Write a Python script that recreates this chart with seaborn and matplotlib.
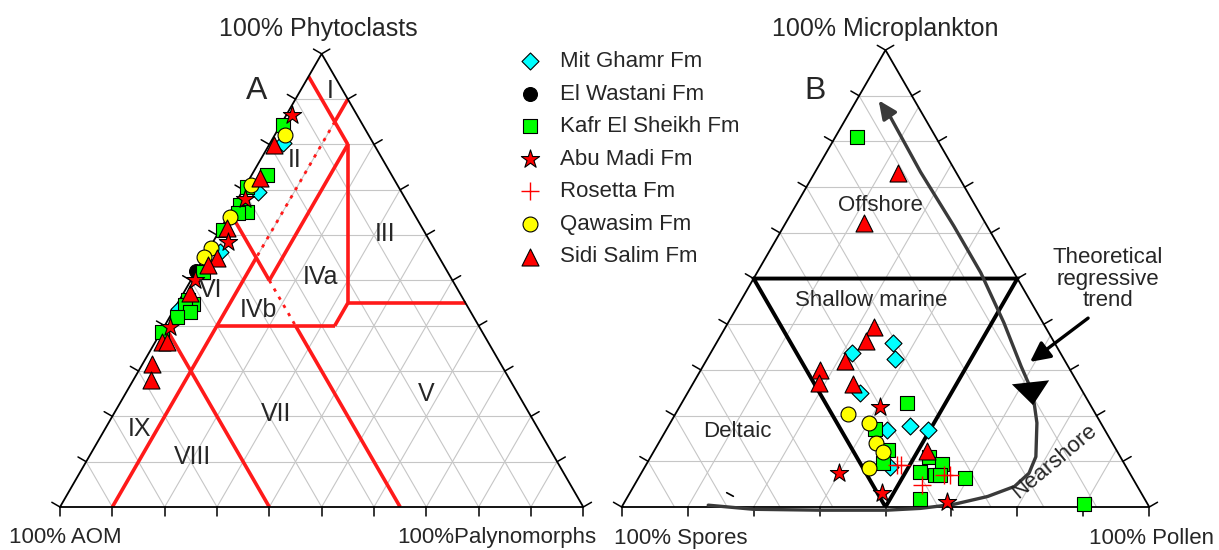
import numpy as np
import matplotlib
matplotlib.use("Agg")
import matplotlib.pyplot as plt
import seaborn as sns

sns.set_style("white")
plt.rcParams["font.family"] = ["Liberation Sans", "DejaVu Sans"]

SQ3 = np.sqrt(3) / 2

# ---------------- Diagram A: APP plot (phytoclasts %, palynomorphs %; AOM = rest)
mit_ghamr_a_phyto = [80.3, 69.5, 56.2, 43.8]
mit_ghamr_a_palyno = [2.5, 3.0, 2.5, 0.9]
el_wastani_a_phyto = [52.1]
el_wastani_a_palyno = [0.0]
kafr_a_phyto = [84.2, 73.3, 70.7, 66.6, 65.2, 64.8, 61.1, 51.9, 45.7, 44.9, 44.6, 43.1, 42.0, 38.7]
kafr_a_palyno = [0.6, 2.9, 0.3, 1.1, 3.1, 1.7, 0.6, 1.4, 1.7, 3.0, 1.6, 3.3, 1.3, 0.1]
abu_madi_a_phyto = [86.4, 67.9, 58.5, 50.1, 39.8]
abu_madi_a_palyno = [1.1, 1.4, 2.9, 0.8, 1.2]
qawasim_a_phyto = [82.0, 71.1, 63.9, 57.1, 55.2]
qawasim_a_palyno = [2.0, 1.0, 0.5, 0.3, 0.0]
sidi_salim_a_phyto = [79.9, 72.5, 61.5, 54.9, 53.4, 47.2, 36.5, 36.5, 31.6, 28.1]
sidi_salim_a_palyno = [1.0, 2.0, 1.2, 2.5, 1.6, 1.3, 1.2, 2.2, 1.8, 3.3]

# ---------------- Diagram B: microplankton %, pollen % (spores = rest)
mit_ghamr_b_micro = [36.0, 32.5, 33.6, 24.9, 16.9, 17.7, 16.9, 8.8]
mit_ghamr_b_pollen = [33.4, 35.5, 26.8, 32.7, 41.8, 45.8, 49.7, 46.5]
kafr_b_micro = [80.9, 22.7, 17.0, 12.5, 9.6, 11.0, 9.4, 7.7, 7.0, 7.0, 6.3, 1.7, 0.7]
kafr_b_pollen = [4.1, 42.7, 39.5, 44.3, 44.7, 52.8, 56.1, 52.6, 55.9, 56.8, 61.9, 55.7, 87.2]
abu_madi_b_micro = [21.8, 7.5, 3.0, 1.2]
abu_madi_b_pollen = [38.1, 37.5, 47.8, 61.0]
rosetta_b_micro = [9.2, 9.2, 4.8, 7.0, 7.0]
rosetta_b_pollen = [47.5, 48.3, 54.5, 57.6, 58.7]
qawasim_b_micro = [20.4, 18.3, 14.1, 12.0, 8.5]
qawasim_b_pollen = [32.7, 37.8, 41.2, 43.5, 42.7]
sidi_salim_b_micro = [73.0, 62.1, 39.5, 36.4, 32.0, 30.0, 27.1, 26.9, 12.3]
sidi_salim_b_pollen = [15.9, 14.9, 28.0, 28.1, 26.3, 22.6, 23.9, 30.3, 51.7]

formations = ["Mit Ghamr Fm", "El Wastani Fm", "Kafr El Sheikh Fm", "Abu Madi Fm",
              "Rosetta Fm", "Qawasim Fm", "Sidi Salim Fm"]

# APP field boundaries (phytoclasts %, palynomorphs %)
zone_solid = [
    ([95, 80], [0, 15]),
    ([90, 85], [10, 10]),
    ([55, 0], [10, 10]),
    ([65, 50], [0, 15]),
    ([40, 0], [25, 65]),
    ([50, 80], [15, 15]),
    ([80, 45], [15, 32.5]),
    ([45, 45], [32.5, 55]),
    ([45, 40], [32.5, 32.5]),
    ([40, 40], [32.5, 10]),
    ([40, 0], [0, 40]),
]
zone_dotted = [
    ([85, 55], [10, 10]),
    ([50, 40], [15, 25]),
]
zone_names = ["I", "II", "III", "IVa", "IVb", "V", "VI", "VII", "VIII", "IX"]

# Palynofacies environment fields (microplankton %, pollen %)
field_micro = [50, 50, 0, 50]
field_pollen = [0, 50, 50, 0]
env_names = ["Offshore", "Shallow marine", "Deltaic", "Nearshore"]

# Theoretical regressive trend (microplankton %, pollen %)
trend_micro = [89.0, 85.3, 73.3, 61.5, 51.3, 40.3, 30.8, 25.0, 18.4, 11.0, 7.4, 4.5,
               2.3, 0.6, -0.3, -0.7, -0.7, -0.5, 0.4]
trend_pollen = [4.2, 8.3, 20.0, 32.2, 42.4, 52.3, 60.3, 65.4, 69.5, 73.0, 73.5, 72.2,
                68.2, 62.7, 56.8, 50.6, 38.0, 25.2, 16.2]


def to_xy(top, right):
    top = np.asarray(top, float)
    right = np.asarray(right, float)
    return (right + top / 2) / 100, top / 100 * SQ3


def frame(ax, n_top, n_left, n_right):
    """Triangle outline, grid and outward ticks.
    n_top: steps of horizontal lines / side ticks; n_left: lines parallel to the
    right side; n_right: lines parallel to the left side and base ticks."""
    gkw = dict(color="#c6c6c6", lw=0.8, zorder=1, solid_capstyle="butt")
    for k in range(1, n_top):
        t = k / n_top
        ax.plot([t / 2, 1 - t / 2], [t * SQ3, t * SQ3], **gkw)
    for k in range(1, n_right):
        r = k / n_right
        ax.plot([r, r + (1 - r) / 2], [0, (1 - r) * SQ3], **gkw)
    for k in range(1, n_left):
        l = k / n_left
        ax.plot([1 - l, (1 - l) / 2], [0, (1 - l) * SQ3], **gkw)
    ax.plot([0, 1, 0.5, 0], [0, 0, SQ3, 0], color="black", lw=1.3, zorder=3,
            clip_on=False, solid_joinstyle="miter")
    tl = 0.018
    tkw = dict(color="black", lw=1.1, zorder=3, clip_on=False)
    for k in range(0, n_right + 1):
        x = k / n_right
        ax.plot([x, x], [0, -tl], **tkw)
    for k in range(0, n_top + 1):
        f = k / n_top
        x0, y0 = 0.5 * f, SQ3 * f
        ax.plot([x0, x0 - SQ3 * tl], [y0, y0 + 0.5 * tl], **tkw)
        x1 = 1 - 0.5 * f
        ax.plot([x1, x1 + SQ3 * tl], [y0, y0 + 0.5 * tl], **tkw)
    ax.set_xlim(0, 1)
    ax.set_ylim(0, SQ3)
    ax.axis("off")


styles = {
    "Mit Ghamr Fm": dict(marker="D", color="#00ffff", s=75, z=4),
    "El Wastani Fm": dict(marker="o", color="black", s=100, z=4.1),
    "Kafr El Sheikh Fm": dict(marker="s", color="#00ff00", s=90, z=4.2),
    "Qawasim Fm": dict(marker="o", color="#ffff00", s=115, z=4.3),
    "Sidi Salim Fm": dict(marker="^", color="#ff0000", s=150, z=4.4),
    "Abu Madi Fm": dict(marker="*", color="#ff0000", s=190, z=4.5),
    "Rosetta Fm": dict(marker="+", color="#ff0000", s=150, z=4.6),
}


def scatter(ax, name, top, right):
    st = styles[name]
    x, y = to_xy(top, right)
    if st["marker"] == "+":
        sns.scatterplot(x=x, y=y, ax=ax, marker="+", s=st["s"], color=st["color"],
                        edgecolor=st["color"], linewidth=1.0, clip_on=False,
                        zorder=st["z"], legend=False, label=name)
    else:
        sns.scatterplot(x=x, y=y, ax=ax, marker=st["marker"], s=st["s"],
                        color=st["color"], edgecolor="black", linewidth=0.8,
                        clip_on=False, zorder=st["z"], legend=False, label=name)


W, H = 1219, 550
fig = plt.figure(figsize=(W / 100, H / 100), dpi=100)

# panel placement in pixels: left corner x, base y, side length
axA = fig.add_axes([60 / W, 43 / H, 523.3 / W, 523.3 * SQ3 / H])
axB = fig.add_axes([621.7 / W, 43 / H, 527.6 / W, 527.6 * SQ3 / H])

# ---------------- panel A
frame(axA, 10, 10, 10)
for ph, pa in zone_solid:
    x, y = to_xy(ph, pa)
    axA.plot(x, y, color="#ff1a1a", lw=2.6, zorder=2.5, solid_capstyle="butt")
for ph, pa in zone_dotted:
    x, y = to_xy(ph, pa)
    axA.plot(x, y, color="#ff1a1a", lw=2.0, zorder=2.5, ls=(0, (1.2, 2.2)))

zone_pos = {"I": (0.516, 0.794), "II": (0.449, 0.664), "III": (0.621, 0.521),
            "IVa": (0.497, 0.440), "IVb": (0.379, 0.376), "V": (0.699, 0.216),
            "VI": (0.288, 0.415), "VII": (0.412, 0.177), "VIII": (0.253, 0.095),
            "IX": (0.151, 0.150)}
for nm in zone_names:
    axA.text(*zone_pos[nm], nm, ha="center", va="center", fontsize=18, zorder=6)
axA.text(0.376, 0.795, "A", ha="center", va="center", fontsize=23, zorder=6)

scatter(axA, "Mit Ghamr Fm", mit_ghamr_a_phyto, mit_ghamr_a_palyno)
scatter(axA, "El Wastani Fm", el_wastani_a_phyto, el_wastani_a_palyno)
scatter(axA, "Kafr El Sheikh Fm", kafr_a_phyto, kafr_a_palyno)
scatter(axA, "Qawasim Fm", qawasim_a_phyto, qawasim_a_palyno)
scatter(axA, "Sidi Salim Fm", sidi_salim_a_phyto, sidi_salim_a_palyno)
scatter(axA, "Abu Madi Fm", abu_madi_a_phyto, abu_madi_a_palyno)

axA.text(0.493, 0.913, "100% Phytoclasts", ha="center", va="center", fontsize=18)
axA.text(0.01, -0.059, "100% AOM", ha="center", va="center", fontsize=16)
axA.text(0.835, -0.059, "100%Palynomorphs", ha="center", va="center", fontsize=16)

# ---------------- panel B
frame(axB, 10, 10, 8)
fx, fy = to_xy(field_micro, field_pollen)
axB.plot(fx, fy, color="black", lw=2.8, zorder=3, solid_joinstyle="miter")

tx, ty = to_xy(trend_micro, trend_pollen)
trend_col = "#3a3a3a"
axB.plot(tx[1:], ty[1:], color=trend_col, lw=2.4, zorder=3.5, solid_capstyle="round",
         solid_joinstyle="round", clip_on=False)
axB.annotate("", xy=(tx[0], ty[0]), xytext=(tx[1], ty[1]),
             arrowprops=dict(arrowstyle="-|>,head_length=0.55,head_width=0.25",
                             mutation_scale=20, color=trend_col, lw=2.4,
                             shrinkA=0, shrinkB=0), zorder=3.5)
hx, hy = to_xy([28.2, 22.3], [63.3, 66.8])
axB.annotate("", xy=(hx[1], hy[1]), xytext=(hx[0], hy[0]),
             arrowprops=dict(arrowstyle="-|>,head_length=0.55,head_width=0.45",
                             mutation_scale=30, color="black", lw=0,
                             shrinkA=0, shrinkB=0), zorder=3.6)
axB.plot([0.199, 0.2116], [0.0271, 0.0203], color="black", lw=1.2, zorder=3)

env_pos = {"Offshore": (0.491, 0.572), "Shallow marine": (0.472, 0.392),
           "Deltaic": (0.220, 0.143), "Nearshore": (0.821, 0.086)}
for nm in env_names:
    rot = 40 if nm == "Nearshore" else 0
    axB.text(*env_pos[nm], nm, ha="center", va="center", fontsize=16, rotation=rot,
             zorder=6)
axB.text(0.366, 0.789, "B", ha="center", va="center", fontsize=23, zorder=6)
axB.text(0.922, 0.432, "Theoretical\nregressive\ntrend", ha="center", va="center",
         fontsize=16, linespacing=1.05, zorder=6)
axB.annotate("", xy=(0.774, 0.275), xytext=(0.884, 0.358),
             arrowprops=dict(arrowstyle="-|>,head_length=0.6,head_width=0.3",
                             mutation_scale=20, color="black", lw=2.4,
                             shrinkA=0, shrinkB=0), annotation_clip=False, zorder=6)

scatter(axB, "Mit Ghamr Fm", mit_ghamr_b_micro, mit_ghamr_b_pollen)
scatter(axB, "Kafr El Sheikh Fm", kafr_b_micro, kafr_b_pollen)
scatter(axB, "Qawasim Fm", qawasim_b_micro, qawasim_b_pollen)
scatter(axB, "Sidi Salim Fm", sidi_salim_b_micro, sidi_salim_b_pollen)
scatter(axB, "Abu Madi Fm", abu_madi_b_micro, abu_madi_b_pollen)
scatter(axB, "Rosetta Fm", rosetta_b_micro, rosetta_b_pollen)

axB.text(0.499, 0.906, "100% Microplankton", ha="center", va="center", fontsize=18)
axB.text(0.1125, -0.059, "100% Spores", ha="center", va="center", fontsize=16)
axB.text(1.0036, -0.059, "100% Pollen", ha="center", va="center", fontsize=16)

# ---------------- legend
handles = {}
for ax in (axA, axB):
    for h, lab in zip(*ax.get_legend_handles_labels()):
        handles.setdefault(lab, h)
fig.legend([handles[f] for f in formations], formations, loc="upper left",
           bbox_to_anchor=(519 / W, 1 - 51 / H), frameon=False, fontsize=16,
           handlelength=1.0, handletextpad=0.85, labelspacing=0.52, borderpad=0,
           borderaxespad=0, scatterpoints=1)

fig.savefig("out.png", dpi=100, facecolor="white")
